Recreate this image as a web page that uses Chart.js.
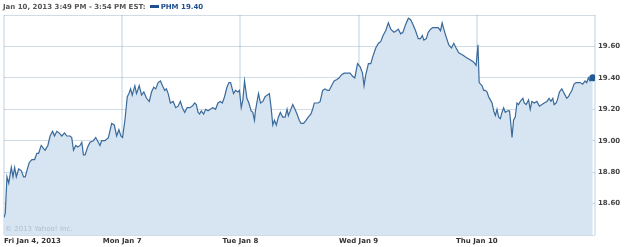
<!DOCTYPE html>
<html>
<head>
<meta charset="utf-8">
<script src="https://cdn.jsdelivr.net/npm/chart.js@4.4.0/dist/chart.umd.min.js"></script>
<style>
  body { margin: 0; background: #fff; overflow: hidden; }
  #wrap { position: relative; width: 625px; height: 247px; }
  #head { position: absolute; left: 3px; top: 3px; font: bold 7px 'DejaVu Sans'; color: #555; white-space: nowrap; line-height: 9px; }
  #head .key { display: inline-block; width: 9px; height: 3px; background: #1d4f91; vertical-align: middle; margin: 0 2px 1px 4px; }
  #head .sym { color: #1d4f91; }
  #copy { position: absolute; left: 5px; top: 225px; font: 7px 'DejaVu Sans'; color: #b0bfcc; white-space: nowrap; }
</style>
</head>
<body>
<div id="wrap">
  <canvas id="myChart" width="625" height="247"></canvas>
  <div id="head">Jan 10, 2013 3:49 PM - 3:54 PM EST:<span class="key"></span><span class="sym">PHM 19.40</span></div>
  <div id="copy">© 2013 Yahoo! Inc.</div>
</div>
<script>
// x = trading day index (0 = Fri Jan 4) plus fraction of the session
const dayLabels = ['Fri Jan 4, 2013', 'Mon Jan 7', 'Tue Jan 8', 'Wed Jan 9', 'Thu Jan 10'];

const times = [
    // Fri
    0, 0.011, 0.025, 0.040, 0.062, 0.076, 0.090, 0.104, 0.124, 0.146, 0.166, 0.180, 0.194, 0.213, 0.236, 0.259, 0.278, 0.293,
    0.315, 0.335, 0.348, 0.371, 0.390, 0.411, 0.427, 0.447, 0.466, 0.489, 0.512, 0.531, 0.559, 0.573, 0.588, 0.607, 0.624,
    0.643, 0.658, 0.672, 0.686, 0.708, 0.728, 0.756, 0.776, 0.798, 0.812, 0.826, 0.854, 0.883, 0.911, 0.933, 0.953, 0.972, 0.989,
    // Mon
    1.003, 1.023, 1.043, 1.057, 1.071, 1.085, 1.107, 1.121, 1.144, 1.164, 1.183, 1.206, 1.229, 1.248, 1.267, 1.284, 1.304,
    1.324, 1.341, 1.360, 1.374, 1.389, 1.408, 1.431, 1.453, 1.473, 1.492, 1.509, 1.529, 1.549, 1.571, 1.594, 1.613, 1.627,
    1.642, 1.655, 1.669, 1.689, 1.706, 1.726, 1.745, 1.768, 1.790, 1.810, 1.830, 1.847, 1.866, 1.886, 1.903, 1.917, 1.931,
    1.942, 1.959, 1.979, 1.992,
    // Tue
    2.007, 2.021, 2.035, 2.055, 2.072, 2.091, 2.105, 2.119, 2.127, 2.153, 2.170, 2.190, 2.209, 2.226, 2.245, 2.260, 2.274,
    2.288, 2.304, 2.321, 2.338, 2.358, 2.378, 2.395, 2.406, 2.422, 2.443, 2.462, 2.479, 2.498, 2.513, 2.535, 2.555, 2.574,
    2.597, 2.611, 2.625, 2.639, 2.658, 2.675, 2.696, 2.715, 2.738, 2.751, 2.771, 2.793, 2.816, 2.836, 2.856, 2.878, 2.906,
    2.928, 2.949, 2.968, 2.991,
    // Wed
    3.013, 3.033, 3.046, 3.061, 3.083, 3.103, 3.122, 3.145, 3.168, 3.187, 3.207, 3.229, 3.252, 3.272, 3.299, 3.320, 3.336,
    3.356, 3.375, 3.398, 3.421, 3.440, 3.460, 3.482, 3.505, 3.524, 3.539, 3.552, 3.573, 3.589, 3.609, 3.628, 3.651, 3.674,
    3.693, 3.707, 3.721, 3.741, 3.763, 3.786, 3.805, 3.825, 3.847, 3.870, 3.890, 3.910, 3.932, 3.954, 3.974, 3.994,
    // Thu
    4.010, 4.020, 4.045, 4.058, 4.073, 4.087, 4.100, 4.115, 4.129, 4.143, 4.157, 4.171, 4.185, 4.199, 4.213, 4.227, 4.241,
    4.261, 4.277, 4.289, 4.298, 4.311, 4.325, 4.340, 4.353, 4.368, 4.390, 4.401, 4.418, 4.438, 4.452, 4.466, 4.486, 4.508,
    4.530, 4.551, 4.570, 4.593, 4.612, 4.627, 4.643, 4.654, 4.671, 4.682, 4.699, 4.719, 4.733, 4.747, 4.761, 4.775, 4.789,
    4.804, 4.823, 4.840, 4.859, 4.874, 4.896, 4.916, 4.930, 4.944, 4.958, 4.981
];

const prices = [
    // Fri
    18.51, 18.54, 18.77, 18.73, 18.83, 18.77, 18.83, 18.77, 18.82, 18.81, 18.77, 18.77, 18.81, 18.86, 18.88, 18.88, 18.92, 18.92,
    18.97, 18.95, 18.94, 18.97, 19.03, 19.06, 19.03, 19.06, 19.05, 19.03, 19.05, 19.03, 19.03, 19.02, 18.94, 18.97, 18.96,
    18.97, 18.99, 18.91, 18.91, 18.96, 18.99, 19.00, 19.02, 18.99, 18.97, 19.00, 19.00, 19.02, 19.11, 19.10, 19.03, 19.07, 19.03,
    // Mon
    19.02, 19.13, 19.28, 19.30, 19.33, 19.29, 19.35, 19.30, 19.35, 19.29, 19.31, 19.27, 19.25, 19.31, 19.34, 19.33, 19.37,
    19.38, 19.35, 19.32, 19.33, 19.30, 19.24, 19.25, 19.21, 19.22, 19.25, 19.21, 19.18, 19.21, 19.21, 19.22, 19.24, 19.23,
    19.18, 19.17, 19.19, 19.17, 19.20, 19.19, 19.20, 19.21, 19.20, 19.24, 19.25, 19.24, 19.28, 19.34, 19.37, 19.37, 19.33,
    19.30, 19.32, 19.31, 19.32,
    // Tue
    19.21, 19.26, 19.38, 19.27, 19.24, 19.19, 19.18, 19.13, 19.19, 19.30, 19.24, 19.25, 19.28, 19.29, 19.30, 19.21, 19.10,
    19.13, 19.10, 19.15, 19.18, 19.15, 19.15, 19.20, 19.16, 19.19, 19.23, 19.20, 19.17, 19.13, 19.11, 19.11, 19.13, 19.15,
    19.17, 19.20, 19.24, 19.24, 19.24, 19.25, 19.32, 19.33, 19.32, 19.32, 19.35, 19.38, 19.39, 19.40, 19.42, 19.43, 19.43,
    19.43, 19.41, 19.40, 19.49,
    // Wed
    19.47, 19.43, 19.35, 19.42, 19.49, 19.49, 19.54, 19.59, 19.62, 19.63, 19.67, 19.70, 19.75, 19.71, 19.69, 19.70, 19.71,
    19.68, 19.69, 19.74, 19.78, 19.77, 19.74, 19.70, 19.65, 19.65, 19.67, 19.64, 19.65, 19.69, 19.71, 19.72, 19.72, 19.72,
    19.70, 19.75, 19.71, 19.66, 19.61, 19.59, 19.62, 19.59, 19.56, 19.55, 19.54, 19.53, 19.52, 19.51, 19.50, 19.48,
    // Thu
    19.61, 19.37, 19.35, 19.32, 19.32, 19.31, 19.28, 19.26, 19.24, 19.19, 19.16, 19.20, 19.15, 19.14, 19.18, 19.21, 19.18,
    19.19, 19.19, 19.10, 19.02, 19.13, 19.15, 19.24, 19.23, 19.25, 19.27, 19.24, 19.23, 19.26, 19.20, 19.25, 19.24, 19.25,
    19.22, 19.23, 19.24, 19.25, 19.27, 19.25, 19.27, 19.23, 19.24, 19.26, 19.31, 19.33, 19.31, 19.29, 19.27, 19.28, 19.30,
    19.32, 19.36, 19.37, 19.37, 19.37, 19.36, 19.38, 19.37, 19.40, 19.38, 19.40
];

const points = times.map(function (t, i) {
    return { x: t, y: prices[i] };
});
const lastIndex = points.length - 1;

const tickFont = { family: 'DejaVu Sans', size: 7, weight: 'bold' };

new Chart(document.getElementById('myChart'), {
    type: 'line',
    data: {
        datasets: [{
            label: 'PHM',
            data: points,
            borderColor: '#3a6a9b',
            borderWidth: 1.2,
            backgroundColor: '#d6e5f1',
            fill: 'start',
            tension: 0,
            pointRadius: function (c) { return c.dataIndex === lastIndex ? 3.5 : 0; },
            pointBackgroundColor: '#1f5a96',
            pointBorderWidth: 0
        }]
    },
    options: {
        responsive: false,
        animation: false,
        devicePixelRatio: 1,
        layout: { padding: { left: 2, top: 15 } },
        plugins: { legend: { display: false }, tooltip: { enabled: false } },
        scales: {
            x: {
                type: 'linear', min: 0, max: 5, z: 1,
                border: { display: false },
                grid: { color: '#e0e8ef', lineWidth: 2, drawTicks: false },
                ticks: {
                    stepSize: 1, autoSkip: false, maxRotation: 0, align: 'inner', padding: 2,
                    color: '#333', font: tickFont,
                    callback: function (v) { return dayLabels[v] || ''; }
                },
                afterFit: function (s) { s.height = 12; }
            },
            y: {
                position: 'right', min: 18.4, max: 19.8, z: 1,
                border: { display: false },
                // semi-transparent: grey over white, darker blue over the fill
                grid: { color: 'rgba(90,130,170,0.28)', drawTicks: false },
                ticks: {
                    stepSize: 0.2, padding: 3, color: '#444', font: tickFont,
                    callback: function (v, i, arr) {
                        return (i === 0 || i === arr.length - 1) ? '' : v.toFixed(2);
                    }
                },
                afterFit: function (s) { s.width = 30; }
            }
        }
    }
});
</script>
</body>
</html>
